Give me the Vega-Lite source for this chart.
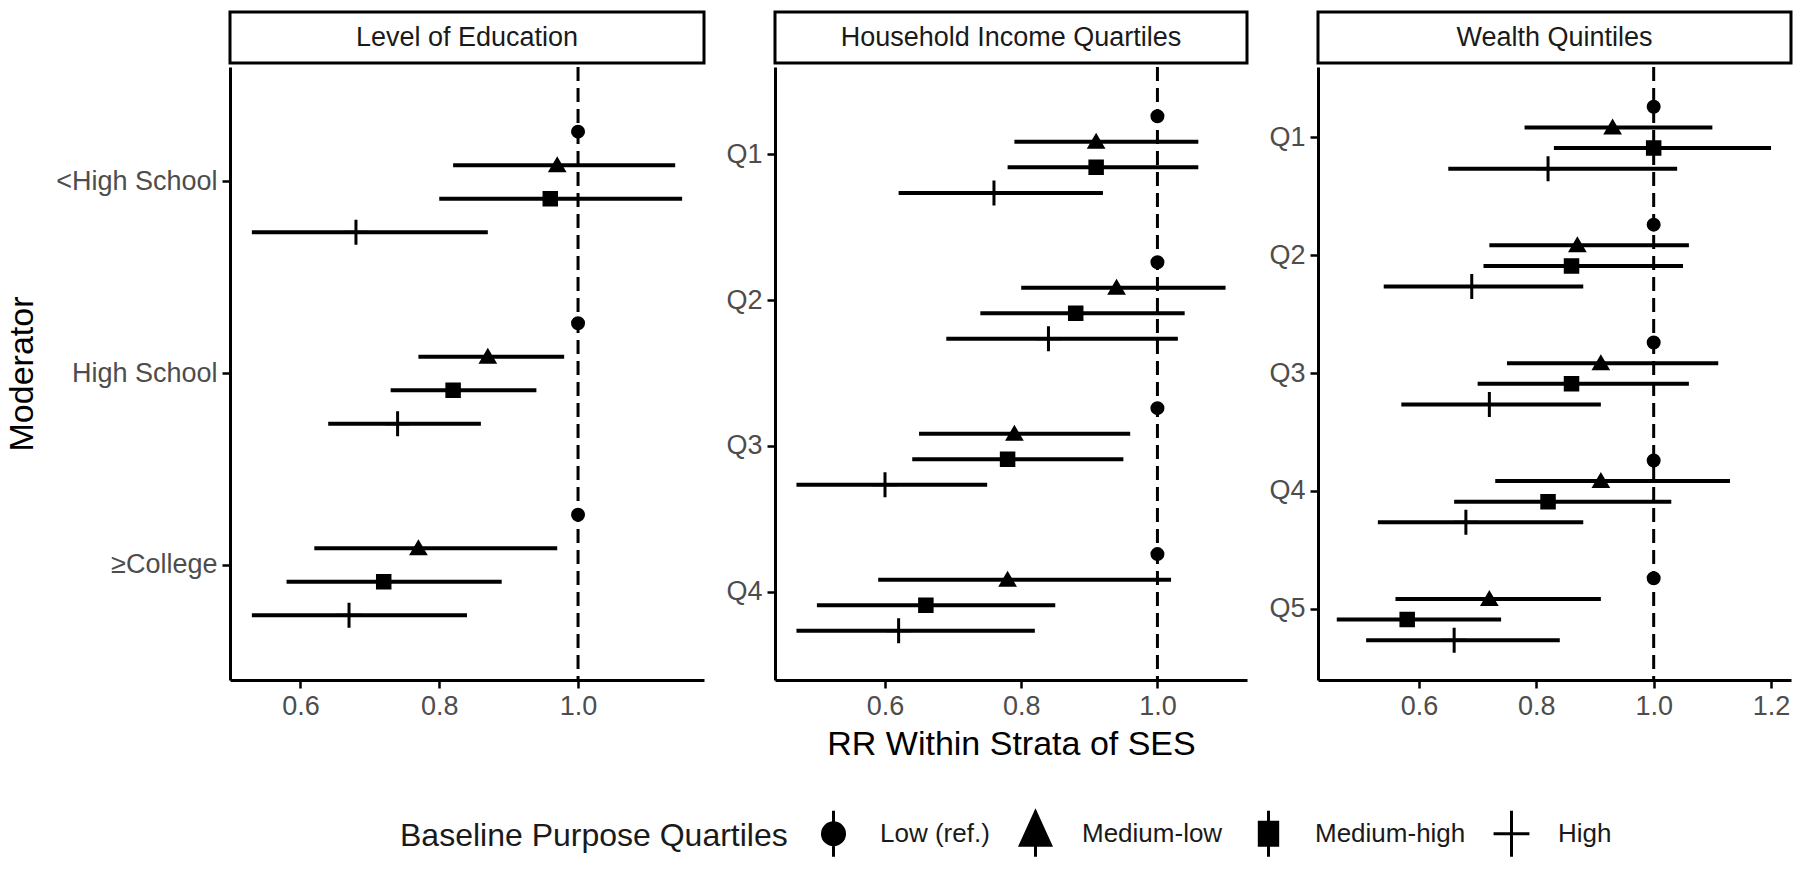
{
 "$schema": "https://vega.github.io/schema/vega-lite/v6.json",
 "padding": {"left": 5, "top": 10, "right": 5, "bottom": 0},
 "background": "white",
 "config": {
  "font": "Liberation Sans",
  "view": {"stroke": null},
  "axis": {"domainColor": "black", "domainWidth": 3, "tickColor": "black", "tickWidth": 2.5, "tickSize": 8, "labelColor": "#4d4d4d", "labelFontSize": 27, "labelPadding": 5, "titleFontSize": 34, "titleFontWeight": "normal", "titleColor": "black", "grid": false}
 },
 "datasets": {
  "strips": [{"panel": "Level of Education"}, {"panel": "Household Income Quartiles"}, {"panel": "Wealth Quintiles"}],
  "ref": [{"x": 1}],
  "rows": [
   {"panel": "Level of Education", "level": "<High School", "group": "Low (ref.)", "rr": 1, "lo": 1, "hi": 1},
   {"panel": "Level of Education", "level": "<High School", "group": "Medium-low", "rr": 0.97, "lo": 0.82, "hi": 1.14},
   {"panel": "Level of Education", "level": "<High School", "group": "Medium-high", "rr": 0.96, "lo": 0.80, "hi": 1.15},
   {"panel": "Level of Education", "level": "<High School", "group": "High", "rr": 0.68, "lo": 0.53, "hi": 0.87},
   {"panel": "Level of Education", "level": "High School", "group": "Low (ref.)", "rr": 1, "lo": 1, "hi": 1},
   {"panel": "Level of Education", "level": "High School", "group": "Medium-low", "rr": 0.87, "lo": 0.77, "hi": 0.98},
   {"panel": "Level of Education", "level": "High School", "group": "Medium-high", "rr": 0.82, "lo": 0.73, "hi": 0.94},
   {"panel": "Level of Education", "level": "High School", "group": "High", "rr": 0.74, "lo": 0.64, "hi": 0.86},
   {"panel": "Level of Education", "level": "≥College", "group": "Low (ref.)", "rr": 1, "lo": 1, "hi": 1},
   {"panel": "Level of Education", "level": "≥College", "group": "Medium-low", "rr": 0.77, "lo": 0.62, "hi": 0.97},
   {"panel": "Level of Education", "level": "≥College", "group": "Medium-high", "rr": 0.72, "lo": 0.58, "hi": 0.89},
   {"panel": "Level of Education", "level": "≥College", "group": "High", "rr": 0.67, "lo": 0.53, "hi": 0.84},
   {"panel": "Household Income Quartiles", "level": "Q1", "group": "Low (ref.)", "rr": 1, "lo": 1, "hi": 1},
   {"panel": "Household Income Quartiles", "level": "Q1", "group": "Medium-low", "rr": 0.91, "lo": 0.79, "hi": 1.06},
   {"panel": "Household Income Quartiles", "level": "Q1", "group": "Medium-high", "rr": 0.91, "lo": 0.78, "hi": 1.06},
   {"panel": "Household Income Quartiles", "level": "Q1", "group": "High", "rr": 0.76, "lo": 0.62, "hi": 0.92},
   {"panel": "Household Income Quartiles", "level": "Q2", "group": "Low (ref.)", "rr": 1, "lo": 1, "hi": 1},
   {"panel": "Household Income Quartiles", "level": "Q2", "group": "Medium-low", "rr": 0.94, "lo": 0.80, "hi": 1.10},
   {"panel": "Household Income Quartiles", "level": "Q2", "group": "Medium-high", "rr": 0.88, "lo": 0.74, "hi": 1.04},
   {"panel": "Household Income Quartiles", "level": "Q2", "group": "High", "rr": 0.84, "lo": 0.69, "hi": 1.03},
   {"panel": "Household Income Quartiles", "level": "Q3", "group": "Low (ref.)", "rr": 1, "lo": 1, "hi": 1},
   {"panel": "Household Income Quartiles", "level": "Q3", "group": "Medium-low", "rr": 0.79, "lo": 0.65, "hi": 0.96},
   {"panel": "Household Income Quartiles", "level": "Q3", "group": "Medium-high", "rr": 0.78, "lo": 0.64, "hi": 0.95},
   {"panel": "Household Income Quartiles", "level": "Q3", "group": "High", "rr": 0.60, "lo": 0.47, "hi": 0.75},
   {"panel": "Household Income Quartiles", "level": "Q4", "group": "Low (ref.)", "rr": 1, "lo": 1, "hi": 1},
   {"panel": "Household Income Quartiles", "level": "Q4", "group": "Medium-low", "rr": 0.78, "lo": 0.59, "hi": 1.02},
   {"panel": "Household Income Quartiles", "level": "Q4", "group": "Medium-high", "rr": 0.66, "lo": 0.50, "hi": 0.85},
   {"panel": "Household Income Quartiles", "level": "Q4", "group": "High", "rr": 0.62, "lo": 0.47, "hi": 0.82},
   {"panel": "Wealth Quintiles", "level": "Q1", "group": "Low (ref.)", "rr": 1, "lo": 1, "hi": 1},
   {"panel": "Wealth Quintiles", "level": "Q1", "group": "Medium-low", "rr": 0.93, "lo": 0.78, "hi": 1.10},
   {"panel": "Wealth Quintiles", "level": "Q1", "group": "Medium-high", "rr": 1.00, "lo": 0.83, "hi": 1.20},
   {"panel": "Wealth Quintiles", "level": "Q1", "group": "High", "rr": 0.82, "lo": 0.65, "hi": 1.04},
   {"panel": "Wealth Quintiles", "level": "Q2", "group": "Low (ref.)", "rr": 1, "lo": 1, "hi": 1},
   {"panel": "Wealth Quintiles", "level": "Q2", "group": "Medium-low", "rr": 0.87, "lo": 0.72, "hi": 1.06},
   {"panel": "Wealth Quintiles", "level": "Q2", "group": "Medium-high", "rr": 0.86, "lo": 0.71, "hi": 1.05},
   {"panel": "Wealth Quintiles", "level": "Q2", "group": "High", "rr": 0.69, "lo": 0.54, "hi": 0.88},
   {"panel": "Wealth Quintiles", "level": "Q3", "group": "Low (ref.)", "rr": 1, "lo": 1, "hi": 1},
   {"panel": "Wealth Quintiles", "level": "Q3", "group": "Medium-low", "rr": 0.91, "lo": 0.75, "hi": 1.11},
   {"panel": "Wealth Quintiles", "level": "Q3", "group": "Medium-high", "rr": 0.86, "lo": 0.70, "hi": 1.06},
   {"panel": "Wealth Quintiles", "level": "Q3", "group": "High", "rr": 0.72, "lo": 0.57, "hi": 0.91},
   {"panel": "Wealth Quintiles", "level": "Q4", "group": "Low (ref.)", "rr": 1, "lo": 1, "hi": 1},
   {"panel": "Wealth Quintiles", "level": "Q4", "group": "Medium-low", "rr": 0.91, "lo": 0.73, "hi": 1.13},
   {"panel": "Wealth Quintiles", "level": "Q4", "group": "Medium-high", "rr": 0.82, "lo": 0.66, "hi": 1.03},
   {"panel": "Wealth Quintiles", "level": "Q4", "group": "High", "rr": 0.68, "lo": 0.53, "hi": 0.88},
   {"panel": "Wealth Quintiles", "level": "Q5", "group": "Low (ref.)", "rr": 1, "lo": 1, "hi": 1},
   {"panel": "Wealth Quintiles", "level": "Q5", "group": "Medium-low", "rr": 0.72, "lo": 0.56, "hi": 0.91},
   {"panel": "Wealth Quintiles", "level": "Q5", "group": "Medium-high", "rr": 0.58, "lo": 0.46, "hi": 0.74},
   {"panel": "Wealth Quintiles", "level": "Q5", "group": "High", "rr": 0.66, "lo": 0.51, "hi": 0.84}
  ]
 },
 "spacing": 19,
 "resolve": {"scale": {"x": "independent", "y": "independent", "yOffset": "independent"}},
 "hconcat": [
  {
   "spacing": 0,
   "resolve": {"scale": {"x": "independent", "y": "independent", "yOffset": "independent"}},
   "vconcat": [
    {"data": {"name": "strips"}, "transform": [{"filter": {"field": "panel", "equal": "Level of Education"}}],
     "width": 474, "height": 51, "view": {"stroke": "black", "strokeWidth": 3},
     "mark": {"type": "text", "fontSize": 27, "color": "#1a1a1a"},
     "encoding": {"text": {"field": "panel"}}},
    {"width": 474, "height": 613,
     "data": {"name": "rows"},
     "transform": [{"filter": {"field": "panel", "equal": "Level of Education"}}],
     "encoding": {
      "x": {"field": "rr", "type": "quantitative", "scale": {"domain": [0.4985, 1.1815], "nice": false, "zero": false}, "axis": {"values": [0.6, 0.8, 1.0], "format": ".1f", "title": null}},
      "y": {"field": "level", "type": "nominal", "scale": {"type": "band", "domain": ["<High School", "High School", "≥College"], "paddingInner": 0, "paddingOuter": 0.1}, "axis": {"title": "Moderator", "titlePadding": 16}},
      "yOffset": {"field": "group", "scale": {"domain": ["Low (ref.)", "Medium-low", "Medium-high", "High"], "paddingInner": 0, "paddingOuter": 0.857}}
     },
     "layer": [
      {"data": {"name": "ref"}, "transform": [], "mark": {"type": "rule", "strokeDash": [14, 7], "strokeWidth": 3, "color": "black"},
       "encoding": {"x": {"field": "x", "type": "quantitative"}, "y": null, "yOffset": null}},
      {"mark": {"type": "rule", "strokeWidth": 4, "color": "black"},
       "encoding": {"x": {"field": "lo", "type": "quantitative"}, "x2": {"field": "hi"}}},
      {"transform": [{"filter": {"field": "group", "equal": "Low (ref.)"}}],
       "mark": {"type": "point", "filled": true, "fill": "black", "stroke": "black", "strokeWidth": 3, "opacity": 1, "size": 625, "shape": "M-0.44,0A0.44,0.44 0 1,0 0.44,0A0.44,0.44 0 1,0 -0.44,0Z"}},
      {"transform": [{"filter": {"field": "group", "equal": "Medium-low"}}],
       "mark": {"type": "point", "filled": true, "fill": "black", "stroke": "black", "strokeWidth": 3, "opacity": 1, "size": 625, "shape": "M0,-0.48L0.54,0.44L-0.54,0.44Z"}},
      {"transform": [{"filter": {"field": "group", "equal": "Medium-high"}}],
       "mark": {"type": "point", "filled": true, "fill": "black", "stroke": "black", "strokeWidth": 3, "opacity": 1, "size": 625, "shape": "M-0.5,-0.5L0.5,-0.5L0.5,0.5L-0.5,0.5Z"}},
      {"transform": [{"filter": {"field": "group", "equal": "High"}}],
       "mark": {"type": "point", "filled": true, "fill": "black", "stroke": "black", "strokeWidth": 3, "opacity": 1, "size": 625, "shape": "M0,-1L0,1M-1,0L1,0"}},
      {"transform": [{"filter": {"field": "group", "equal": "none"}}],
       "mark": {"type": "point", "filled": true, "color": "black", "stroke": "black", "strokeWidth": 3},
       "encoding": {
        "shape": {"field": "group", "type": "nominal", "scale": {"domain": ["Low (ref.)", "Medium-low", "Medium-high", "High"], "range": ["M0,-1L0,1M-0.48,0A0.48,0.48 0 1,0 0.48,0A0.48,0.48 0 1,0 -0.48,0Z", "M0,-1L0,1M0,-0.95L0.66,0.5L-0.66,0.5Z", "M0,-1L0,1M-0.4,-0.5L0.4,-0.5L0.4,0.5L-0.4,0.5Z", "M0,-1L0,1M-0.78,0L0.78,0"]},
         "legend": {"orient": "none", "legendX": 170, "legendY": 797, "direction": "horizontal", "title": "Baseline Purpose Quartiles", "titleOrient": "left", "titleAnchor": "middle", "titleBaseline": "middle", "titleFontSize": 32, "titleFontWeight": "normal", "titleColor": "#1a1a1a", "titlePadding": 21, "titleLimit": 700, "labelFontSize": 26, "labelColor": "#1a1a1a", "labelOffset": 22, "labelLimit": 400, "columnPadding": 21, "symbolSize": 2116, "symbolStrokeWidth": 3, "symbolOpacity": 1}}
       }}
     ]}
   ]
  },
  {
   "spacing": 0,
   "resolve": {"scale": {"x": "independent", "y": "independent", "yOffset": "independent"}},
   "vconcat": [
    {"data": {"name": "strips"}, "transform": [{"filter": {"field": "panel", "equal": "Household Income Quartiles"}}],
     "width": 472, "height": 51, "view": {"stroke": "black", "strokeWidth": 3},
     "mark": {"type": "text", "fontSize": 27, "color": "#1a1a1a"},
     "encoding": {"text": {"field": "panel"}}},
    {"width": 472, "height": 613,
     "data": {"name": "rows"},
     "transform": [{"filter": {"field": "panel", "equal": "Household Income Quartiles"}}],
     "encoding": {
      "x": {"field": "rr", "type": "quantitative", "scale": {"domain": [0.4385, 1.1315], "nice": false, "zero": false}, "axis": {"values": [0.6, 0.8, 1.0], "format": ".1f", "title": "RR Within Strata of SES", "titlePadding": 8}},
      "y": {"field": "level", "type": "nominal", "scale": {"type": "band", "domain": ["Q1", "Q2", "Q3", "Q4"], "paddingInner": 0, "paddingOuter": 0.1}, "axis": {"title": null}},
      "yOffset": {"field": "group", "scale": {"domain": ["Low (ref.)", "Medium-low", "Medium-high", "High"], "paddingInner": 0, "paddingOuter": 0.857}}
     },
     "layer": [
      {"data": {"name": "ref"}, "transform": [], "mark": {"type": "rule", "strokeDash": [14, 7], "strokeWidth": 3, "color": "black"},
       "encoding": {"x": {"field": "x", "type": "quantitative"}, "y": null, "yOffset": null}},
      {"mark": {"type": "rule", "strokeWidth": 4, "color": "black"},
       "encoding": {"x": {"field": "lo", "type": "quantitative"}, "x2": {"field": "hi"}}},
      {"transform": [{"filter": {"field": "group", "equal": "Low (ref.)"}}],
       "mark": {"type": "point", "filled": true, "fill": "black", "stroke": "black", "strokeWidth": 3, "opacity": 1, "size": 625, "shape": "M-0.44,0A0.44,0.44 0 1,0 0.44,0A0.44,0.44 0 1,0 -0.44,0Z"}},
      {"transform": [{"filter": {"field": "group", "equal": "Medium-low"}}],
       "mark": {"type": "point", "filled": true, "fill": "black", "stroke": "black", "strokeWidth": 3, "opacity": 1, "size": 625, "shape": "M0,-0.48L0.54,0.44L-0.54,0.44Z"}},
      {"transform": [{"filter": {"field": "group", "equal": "Medium-high"}}],
       "mark": {"type": "point", "filled": true, "fill": "black", "stroke": "black", "strokeWidth": 3, "opacity": 1, "size": 625, "shape": "M-0.5,-0.5L0.5,-0.5L0.5,0.5L-0.5,0.5Z"}},
      {"transform": [{"filter": {"field": "group", "equal": "High"}}],
       "mark": {"type": "point", "filled": true, "fill": "black", "stroke": "black", "strokeWidth": 3, "opacity": 1, "size": 625, "shape": "M0,-1L0,1M-1,0L1,0"}}
     ]}
   ]
  },
  {
   "spacing": 0,
   "resolve": {"scale": {"x": "independent", "y": "independent", "yOffset": "independent"}},
   "vconcat": [
    {"data": {"name": "strips"}, "transform": [{"filter": {"field": "panel", "equal": "Wealth Quintiles"}}],
     "width": 473, "height": 51, "view": {"stroke": "black", "strokeWidth": 3},
     "mark": {"type": "text", "fontSize": 27, "color": "#1a1a1a"},
     "encoding": {"text": {"field": "panel"}}},
    {"width": 473, "height": 613,
     "data": {"name": "rows"},
     "transform": [{"filter": {"field": "panel", "equal": "Wealth Quintiles"}}],
     "encoding": {
      "x": {"field": "rr", "type": "quantitative", "scale": {"domain": [0.428, 1.234], "nice": false, "zero": false}, "axis": {"values": [0.6, 0.8, 1.0, 1.2], "format": ".1f", "title": null}},
      "y": {"field": "level", "type": "nominal", "scale": {"type": "band", "domain": ["Q1", "Q2", "Q3", "Q4", "Q5"], "paddingInner": 0, "paddingOuter": 0.1}, "axis": {"title": null}},
      "yOffset": {"field": "group", "scale": {"domain": ["Low (ref.)", "Medium-low", "Medium-high", "High"], "paddingInner": 0, "paddingOuter": 0.857}}
     },
     "layer": [
      {"data": {"name": "ref"}, "transform": [], "mark": {"type": "rule", "strokeDash": [14, 7], "strokeWidth": 3, "color": "black"},
       "encoding": {"x": {"field": "x", "type": "quantitative"}, "y": null, "yOffset": null}},
      {"mark": {"type": "rule", "strokeWidth": 4, "color": "black"},
       "encoding": {"x": {"field": "lo", "type": "quantitative"}, "x2": {"field": "hi"}}},
      {"transform": [{"filter": {"field": "group", "equal": "Low (ref.)"}}],
       "mark": {"type": "point", "filled": true, "fill": "black", "stroke": "black", "strokeWidth": 3, "opacity": 1, "size": 625, "shape": "M-0.44,0A0.44,0.44 0 1,0 0.44,0A0.44,0.44 0 1,0 -0.44,0Z"}},
      {"transform": [{"filter": {"field": "group", "equal": "Medium-low"}}],
       "mark": {"type": "point", "filled": true, "fill": "black", "stroke": "black", "strokeWidth": 3, "opacity": 1, "size": 625, "shape": "M0,-0.48L0.54,0.44L-0.54,0.44Z"}},
      {"transform": [{"filter": {"field": "group", "equal": "Medium-high"}}],
       "mark": {"type": "point", "filled": true, "fill": "black", "stroke": "black", "strokeWidth": 3, "opacity": 1, "size": 625, "shape": "M-0.5,-0.5L0.5,-0.5L0.5,0.5L-0.5,0.5Z"}},
      {"transform": [{"filter": {"field": "group", "equal": "High"}}],
       "mark": {"type": "point", "filled": true, "fill": "black", "stroke": "black", "strokeWidth": 3, "opacity": 1, "size": 625, "shape": "M0,-1L0,1M-1,0L1,0"}}
     ]}
   ]
  }
 ]
}
